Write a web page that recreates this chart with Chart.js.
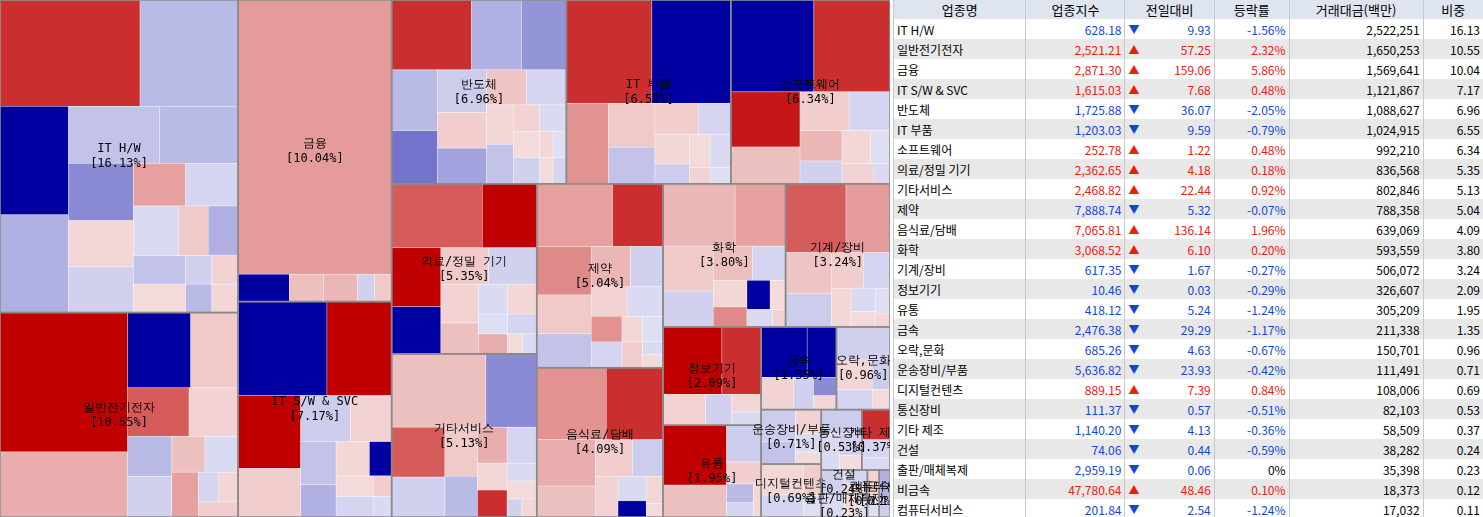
<!DOCTYPE html>
<html><head><meta charset="utf-8">
<script src="https://cdn.jsdelivr.net/npm/chart.js@4"></script>
<style>
body{margin:0;background:#fff;font-family:"Noto Sans CJK KR",sans-serif;}
#wrap{position:absolute;left:0;top:0;width:890px;height:517px;}
table{position:absolute;left:893px;top:0;width:590px;border-collapse:collapse;font-size:12px;}
th{background:#dfe5ee;font-weight:normal;height:18px;border-left:1px solid #c8ccd4;padding:0;font-size:13px;}
td{height:20px;padding:0 3px;white-space:nowrap;border-left:1px solid #c8c8c8;}
tr:nth-child(even) td{background:#e8e8e8;}
.r{text-align:right}.up{color:#e8200c}.dn{color:#1048d0}
td.a{border-left:none}
</style></head><body>
<div id="wrap"><canvas id="c"></canvas></div>
<table id="t"><thead><tr><th>업종명</th><th>업종지수</th><th colspan="2">전일대비</th><th>등락률</th><th>거래대금(백만)</th><th>비중</th></tr></thead><tbody></tbody></table>
<script>
const names = ['IT H/W','일반전기전자','금융','IT S/W & SVC','반도체','IT 부품','소프트웨어','의료/정밀 기기','기타서비스','제약','음식료/담배','화학','기계/장비','정보기기','유통','금속','오락,문화','운송장비/부품','디지털컨텐츠','통신장비','기타 제조','건설','출판/매체복제','비금속','컴퓨터서비스'];
const indexVals = ['628.18','2,521.21','2,871.30','1,615.03','1,725.88','1,203.03','252.78','2,362.65','2,468.82','7,888.74','7,065.81','3,068.52','617.35','10.46','418.12','2,476.38','685.26','5,636.82','889.15','111.37','1,140.20','74.06','2,959.19','47,780.64','201.84'];
const diffVals = ['9.93','57.25','159.06','7.68','36.07','9.59','1.22','4.18','22.44','5.32','136.14','6.10','1.67','0.03','5.24','29.29','4.63','23.93','7.39','0.57','4.13','0.44','0.06','48.46','2.54'];
const changes = [-1.56,2.32,5.86,0.48,-2.05,-0.79,0.48,0.18,0.92,-0.07,1.96,0.20,-0.27,-0.29,-1.24,-1.17,-0.67,-0.42,0.84,-0.51,-0.36,-0.59,0,0.10,-1.24];
const upFlags = [0,1,1,1,0,0,1,1,1,0,1,1,0,0,0,0,0,0,1,0,0,0,0,1,0];
const volumes = ['2,522,251','1,650,253','1,569,641','1,121,867','1,088,627','1,024,915','992,210','836,568','802,846','788,358','639,069','593,559','506,072','326,607','305,209','211,338','150,701','111,491','108,006','82,103','58,509','38,282','35,398','18,373','17,032'];
const weights = [16.13,10.55,10.04,7.17,6.96,6.55,6.34,5.35,5.13,5.04,4.09,3.80,3.24,2.09,1.95,1.35,0.96,0.71,0.69,0.53,0.37,0.24,0.23,0.12,0.11];
// how many sectors go in each strip of the layout
const stripCounts = [2,2,3,2,2,2,2,2,2,2,2,2];
// stocks inside each sector: sizes and % change (estimated)
const subSizes = [
 [20,14,10,9,7,6,5,4,4,3,3,3,2,2,2,2,1,1,1,1],
 [30,14,8,6,5,4,3,3,2,2,2,1,1,1],
 [90,3,2,2,1,1],
 [22,16,12,8,6,5,4,3,3,2,2,2,1,1],
 [16,10,9,8,7,6,5,5,4,4,3,3,2,2,2,2,1,1,1,1],
 [26,24,10,6,5,4,3,3,2,2,2,1,1],
 [24,22,12,8,6,5,4,3,3,2,2,1],
 [20,12,10,8,6,6,5,4,3,3,2,2,2,1,1],
 [26,14,10,8,6,5,4,4,3,3,2,2,1,1],
 [18,12,10,8,7,6,5,4,4,3,3,2,2,2,1,1],
 [22,18,12,8,6,5,4,3,2,2,1],
 [20,14,10,8,6,5,4,3,3,2,2,1],
 [22,16,10,8,6,5,4,3,2,2,1],
 [30,20,10,6,4,3],
 [30,16,10,6,4,3,2],
 [22,14,10,6,4,3],
 [20,12,8,6,4],
 [14,10,8,6,4],
 [14,10,6,4],
 [12,8,6,4],
 [10,6,4],
 [8,5,3],
 [8,5,3],
 [6,3],
 [5,3]
];
const subChanges = [
 [4,-1,-6,-1.2,-0.8,-1,-2,0.3,-0.5,1.5,-0.4,-0.3,0.6,-1.2,-0.8,0.2,-0.5,0.4,-1,0.3],
 [5,1.2,-6,0.6,3,0.4,-1,-0.5,0.8,-0.3,1.5,-0.4,0.3,0.5],
 [1.6,-6,0.8,1,-0.5,0.6],
 [-5,5,6,0.5,-0.6,0.4,-0.8,-1.2,0.3,-6,0.2,-0.4,0.5,-0.3],
 [4,-1.2,-1.8,-1,-2.5,-0.6,0.5,-1.5,0.7,-0.4,0.3,-0.8,0.4,-0.3,0.2,-0.5,0.3,-0.2,0.2,-0.4],
 [4,-7,1.8,0.6,-0.8,0.5,-0.4,0.3,-0.6,0.2,-0.3,0.4,-0.2],
 [-6,4,4.5,0.8,0.5,-0.4,1,-0.5,0.3,-0.2,0.4,-0.3],
 [3,5,5,-7,0.6,-0.5,0.4,0.8,-0.3,0.3,-0.2,1.2,-0.4,0.2,-0.3],
 [0.8,-2,3,-0.5,0.6,-1,1.2,-0.4,0.3,4,-0.3,0.2,-0.5,0.3],
 [1.5,4,2,0.6,-0.8,1,-0.5,0.4,-0.3,1.8,-0.4,0.3,-0.2,0.5,-0.3,0.2],
 [1.8,4,1.2,0.8,0.5,-0.6,0.4,-0.3,-5,0.3,0.2],
 [1,1.5,0.6,-0.5,0.8,-0.4,0.3,2,-6,0.2,-0.3,0.4],
 [3,1.6,0.7,-0.6,0.5,-0.4,0.3,-0.3,0.2,-0.2,0.3],
 [5,4,0.4,-0.5,0.3,-0.3],
 [5,0.8,-0.6,0.5,-1,-0.4,0.3],
 [-6,-6,0.4,-0.5,-2,0.3],
 [-0.5,0.3,-0.4,-0.6,0.2],
 [-0.6,-0.8,0.4,-0.3,0.2],
 [0.3,-0.4,0.5,-0.2],
 [-0.6,-0.3,-0.5,0.2],
 [4,-0.4,-0.3],
 [-0.5,-0.4,0.3],
 [-0.3,0.2,-0.2],
 [0.4,-0.2],
 [-1.2,-0.6]
];

function colorFor(p){
  const t = Math.min(Math.abs(p)/5,1);
  if (p >= 0) {
    return `rgb(${Math.round(246-54*t)},${Math.round(228-228*t)},${Math.round(228-228*t)})`;
  }
  return `rgb(${Math.round(232-232*t)},${Math.round(232-232*t)},${Math.round(248-88*t)})`;
}

// lay out one strip along the short side of the remaining rect
function layStrip(items, rect, out){
  const sum = items.reduce((a,r)=>a+r.a,0);
  let {x, y, w, h} = rect;
  if (w >= h){
    const cw = sum/h; let cy = y;
    items.forEach(r=>{ const ch = r.a/cw; out[r.i] = {x, y:cy, w:cw, h:ch}; cy += ch; });
    return {x:x+cw, y, w:w-cw, h};
  }
  const ch = sum/w; let cx = x;
  items.forEach(r=>{ const cw = r.a/ch; out[r.i] = {x:cx, y, w:cw, h:ch}; cx += cw; });
  return {x, y:y+ch, w, h:h-ch};
}
function areas(vals, w, h){
  const total = vals.reduce((a,b)=>a+b,0);
  return vals.map((v,i)=>({i, a:v/total*w*h}));
}
function stripLayout(vals, counts, rect){
  const items = areas(vals, rect.w, rect.h), out = [];
  let k = 0;
  counts.forEach(c=>{ if (k < items.length){ rect = layStrip(items.slice(k, k+c), rect, out); k += c; } });
  if (k < items.length) layStrip(items.slice(k), rect, out);
  return out;
}
function squarify(vals, x, y, w, h){
  const items = areas(vals, w, h), out = [];
  let rest = items, rect = {x, y, w, h};
  while (rest.length){
    const side = Math.min(rect.w, rect.h);
    let row = [rest[0]], best = worst(row, side), k = 1;
    while (k < rest.length){
      const cand = row.concat(rest[k]);
      const ws = worst(cand, side);
      if (ws > best) break;
      row = cand; best = ws; k++;
    }
    rect = layStrip(row, rect, out);
    rest = rest.slice(k);
  }
  return out;
}
function worst(row, side){
  const s = row.reduce((a,r)=>a+r.a,0);
  let mx = 0;
  row.forEach(r=>{ mx = Math.max(mx, side*side*r.a/(s*s), s*s/(side*side*r.a)); });
  return mx;
}

const treemapPlugin = {
  id: 'treemap',
  afterDatasetsDraw(chart){
    const ctx = chart.ctx, sx = chart.scales.x, sy = chart.scales.y;
    const W = 890/517;
    const boxes = stripLayout(weights, stripCounts, {x:0, y:0, w:W, h:1});
    const px = (r)=>{
      const x0 = sx.getPixelForValue(r.x/W), x1 = sx.getPixelForValue((r.x+r.w)/W);
      const y0 = sy.getPixelForValue(1-r.y), y1 = sy.getPixelForValue(1-r.y-r.h);
      return {x:x0, y:y0, w:x1-x0, h:y1-y0};
    };
    ctx.save();
    boxes.forEach((b, si)=>{
      const subs = squarify(subSizes[si], b.x, b.y, b.w, b.h);
      subs.forEach((s, j)=>{
        const p = px(s);
        ctx.fillStyle = colorFor(subChanges[si][j]);
        ctx.fillRect(p.x, p.y, p.w, p.h);
        ctx.strokeStyle = 'rgba(255,255,255,0.6)';
        ctx.lineWidth = 0.5;
        ctx.strokeRect(p.x, p.y, p.w, p.h);
      });
    });
    boxes.forEach((b, si)=>{
      const p = px(b);
      ctx.strokeStyle = '#8a8a8a'; ctx.lineWidth = 1.5;
      ctx.strokeRect(p.x, p.y, p.w, p.h);
      ctx.fillStyle = '#000';
      ctx.font = '12px "DejaVu Sans Mono", monospace';
      ctx.textAlign = 'center'; ctx.textBaseline = 'middle';
      const cx = p.x + p.w/2, cy = p.y + p.h/2;
      ctx.fillText(names[si], cx, cy - 7);
      ctx.fillText('[' + weights[si].toFixed(2) + '%]', cx, cy + 8);
    });
    ctx.restore();
  }
};

new Chart(document.getElementById('c'), {
  type: 'scatter',
  data: { datasets: [{ data: [] }] },
  options: {
    responsive: true, maintainAspectRatio: false, animation: false,
    layout: { padding: 0 },
    plugins: { legend: { display: false }, tooltip: { enabled: false } },
    scales: {
      x: { type: 'linear', min: 0, max: 1, display: false },
      y: { type: 'linear', min: 0, max: 1, display: false }
    }
  },
  plugins: [treemapPlugin]
});

const tb = document.querySelector('#t tbody');
tb.innerHTML = names.map((n, i)=>{
  const cls = upFlags[i] ? 'up' : 'dn';
  const pctCls = changes[i] === 0 ? '' : cls;
  const pct = changes[i] === 0 ? '0%' : changes[i].toFixed(2) + '%';
  return `<tr><td>${n}</td><td class="r ${cls}">${indexVals[i]}</td>
  <td class="${cls}" style="width:12px;font-size:11px">${upFlags[i] ? '▲' : '▼'}</td>
  <td class="r ${cls} a">${diffVals[i]}</td><td class="r ${pctCls}">${pct}</td>
  <td class="r">${volumes[i]}</td><td class="r">${weights[i].toFixed(2)}</td></tr>`;
}).join('');
</script>
</body></html>
